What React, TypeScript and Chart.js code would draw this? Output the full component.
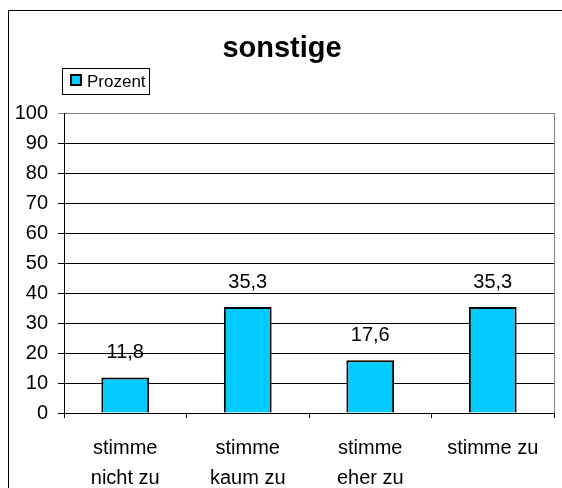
import React, { useEffect, useRef } from "react";
import { Chart, registerables } from "chart.js";

Chart.register(...registerables);

const categories: string[][] = [
  ["stimme", "nicht zu"],
  ["stimme", "kaum zu"],
  ["stimme", "eher zu"],
  ["stimme zu"],
];
const seriesName = "Prozent";
const values = [11.8, 35.3, 17.6, 35.3];
const chartTitle = "sonstige";
const yMin = 0;
const yMax = 100;
const yStep = 10;

const FONT = "'Liberation Sans', Arial, sans-serif";
const BAR_COLOR = "#00CCFF";

const decorPlugin = {
  id: "decor",
  afterDraw(chart: any) {
    const ctx = chart.ctx;
    const area = chart.chartArea;
    ctx.save();
    ctx.strokeStyle = "#808080";
    ctx.lineWidth = 1;
    ctx.beginPath();
    ctx.moveTo(Math.round(area.right) + 0.5, area.top);
    ctx.lineTo(Math.round(area.right) + 0.5, area.bottom);
    ctx.stroke();

    ctx.fillStyle = "#000";
    ctx.font = `bold 29px ${FONT}`;
    ctx.textAlign = "center";
    ctx.textBaseline = "middle";
    ctx.fillText(chartTitle, 273, 38);

    ctx.strokeStyle = "#000";
    ctx.lineWidth = 1;
    ctx.strokeRect(53.5, 57.5, 87, 26);
    ctx.fillStyle = BAR_COLOR;
    ctx.fillRect(62, 64, 10, 10);
    ctx.lineWidth = 2;
    ctx.strokeRect(62, 64, 10, 10);
    ctx.fillStyle = "#000";
    ctx.font = `17px ${FONT}`;
    ctx.textAlign = "left";
    ctx.textBaseline = "middle";
    ctx.fillText(chart.data.datasets[0].label, 78, 71);

    const meta = chart.getDatasetMeta(0);
    ctx.font = `20px ${FONT}`;
    ctx.textAlign = "center";
    meta.data.forEach((bar: any, i: number) => {
      const v = chart.data.datasets[0].data[i] as number;
      ctx.fillText(v.toFixed(1).replace(".", ","), bar.x, bar.y - 25);
    });
    ctx.restore();
  },
};

export default function App() {
  const ref = useRef<HTMLCanvasElement>(null);
  useEffect(() => {
    if (!ref.current) return;
    const chart = new Chart(ref.current, {
      type: "bar",
      data: {
        labels: categories,
        datasets: [
          {
            label: seriesName,
            data: values,
            backgroundColor: BAR_COLOR,
            borderColor: "#000",
            borderWidth: 2,
            barPercentage: 0.39,
            categoryPercentage: 1,
          },
        ],
      },
      options: {
        responsive: false,
        animation: false,
        devicePixelRatio: 1,
        layout: { padding: { top: 102, left: 0, right: 8, bottom: 0 } },
        plugins: {
          legend: { display: false },
          title: { display: false },
          tooltip: { enabled: false },
        },
        scales: {
          x: {
            offset: true,
            grid: {
              offset: true,
              drawOnChartArea: false,
              drawTicks: true,
              tickLength: 5,
              color: "#000",
            },
            border: { color: "#000", width: 1 },
            ticks: {
              color: "#000",
              font: { family: FONT, size: 20, lineHeight: 1.5 },
              padding: 15,
              maxRotation: 0,
              autoSkip: false,
            },
            afterFit(scale: any) {
              scale.height = 75;
            },
          },
          y: {
            min: yMin,
            max: yMax,
            ticks: {
              stepSize: yStep,
              color: "#000",
              font: { family: FONT, size: 20 },
              padding: 10,
            },
            grid: {
              color: (c: any) => (c.tick && c.tick.value === yMax ? "#808080" : "#000"),
              tickLength: 6,
              drawTicks: true,
            },
            border: { color: "#000", width: 1 },
            afterFit(scale: any) {
              scale.width = 55;
            },
          },
        },
      },
      plugins: [decorPlugin],
    });
    return () => chart.destroy();
  }, []);

  return (
    <div
      style={{
        position: "fixed",
        left: 8,
        top: 10,
        width: 600,
        height: 500,
        borderLeft: "1px solid #000",
        borderTop: "1px solid #000",
        background: "#fff",
        overflow: "hidden",
      }}
    >
      <canvas ref={ref} width={553} height={477} style={{ display: "block" }} />
    </div>
  );
}
